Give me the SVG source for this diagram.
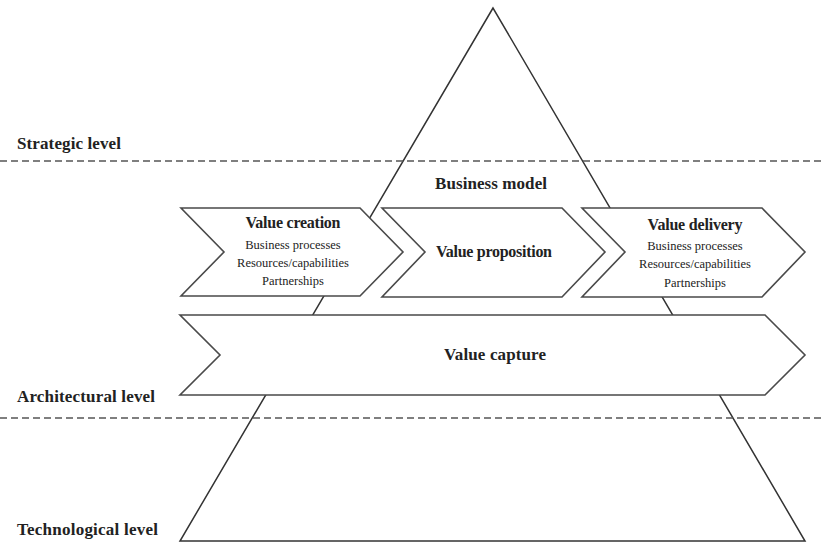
<svg xmlns="http://www.w3.org/2000/svg" width="822" height="551" viewBox="0 0 822 551">
<style>
.lvl{font-family:"Liberation Serif","Times New Roman",serif;font-weight:bold;font-size:17px;fill:#222}
.ttl{font-family:"Liberation Serif","Times New Roman",serif;font-weight:bold;font-size:16px;fill:#222;text-anchor:middle}
.sub{font-family:"Liberation Serif","Times New Roman",serif;font-size:12.5px;fill:#222;text-anchor:middle}
.chev{fill:#fff;stroke:#4a4a4a;stroke-width:1.6;stroke-linejoin:miter}
.dash{stroke:#555;stroke-width:1.5;stroke-dasharray:7,4;fill:none}
</style>
<rect width="822" height="551" fill="#fff"/>
<g id="pyramid">
<polygon points="493,8 180,541 805,541" fill="#fff" stroke="#333" stroke-width="1.5"/>
</g>
<g id="levels">
<line class="dash" x1="0" y1="161" x2="822" y2="161"/>
<line class="dash" x1="0" y1="418" x2="822" y2="418"/>
<text class="lvl" x="17" y="149" textLength="104">Strategic level</text>
<text class="lvl" x="17" y="402" textLength="138">Architectural level</text>
<text class="lvl" x="17" y="535" textLength="141">Technological level</text>
</g>
<g id="business-model">
<text class="ttl" x="491" y="189" style="font-size:17px" textLength="112">Business model</text>
</g>
<g id="value-creation">
<polygon class="chev" points="181,208 360,208 403,252 360,296 181,296 224,252"/>
<text class="ttl" x="293" y="228" textLength="95">Value creation</text>
<text class="sub" x="293" y="249">Business processes</text>
<text class="sub" x="293" y="267">Resources/capabilities</text>
<text class="sub" x="293" y="285">Partnerships</text>
</g>
<g id="value-proposition">
<polygon class="chev" points="382,208 562,208 605,252 562,297 382,297 425,252"/>
<text class="ttl" x="494" y="257" textLength="116">Value proposition</text>
</g>
<g id="value-delivery">
<polygon class="chev" points="582,208 762,208 805,252 762,297 582,297 625,252"/>
<text class="ttl" x="695" y="230" textLength="95">Value delivery</text>
<text class="sub" x="695" y="250">Business processes</text>
<text class="sub" x="695" y="268">Resources/capabilities</text>
<text class="sub" x="695" y="287">Partnerships</text>
</g>
<g id="value-capture">
<polygon class="chev" points="180,315 765,315 805,355 765,395 180,395 220,355"/>
<text class="ttl" x="495" y="360" style="font-size:17px" textLength="102">Value capture</text>
</g>
<g id="connectors"></g>
</svg>
